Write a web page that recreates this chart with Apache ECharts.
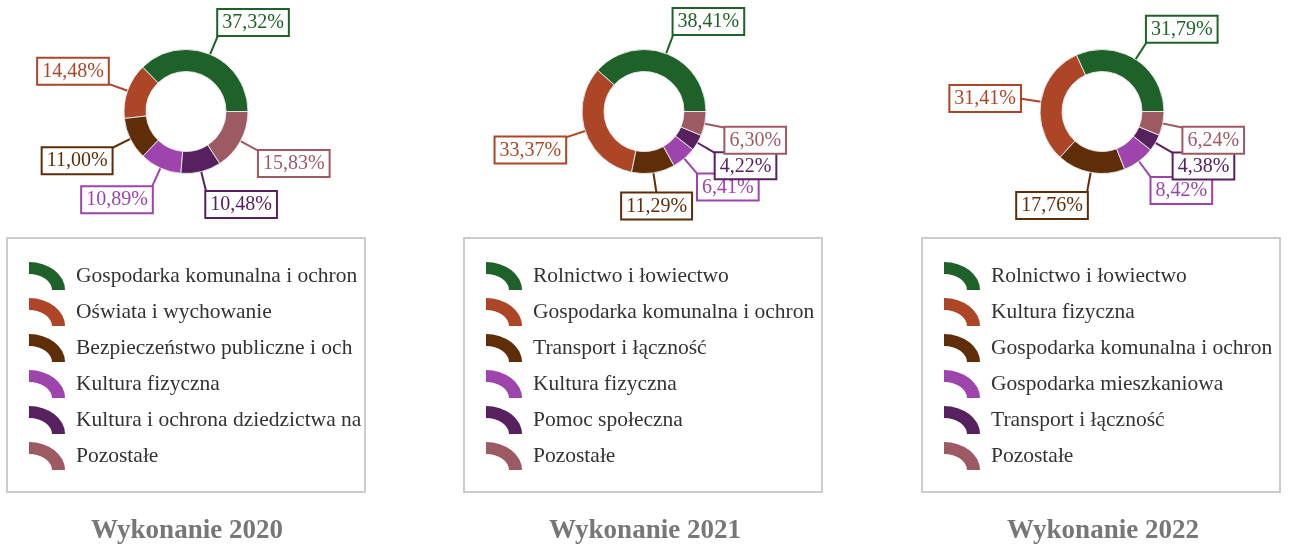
<!DOCTYPE html>
<html>
<head>
<meta charset="utf-8">
<title>Wykonanie 2020–2022</title>
<script src="https://cdn.jsdelivr.net/npm/echarts@6/dist/echarts.min.js"></script>
<style>
  html, body { margin: 0; padding: 0; background: #fff; }
  #chart { width: 1290px; height: 545px; }
</style>
</head>
<body>
<div id="chart"></div>
<script>
// Expenditure structure by section, share of total (%)
const years = ['Wykonanie 2020', 'Wykonanie 2021', 'Wykonanie 2022'];

const names2020 = [
  'Gospodarka komunalna i ochrona środowiska',
  'Oświata i wychowanie',
  'Bezpieczeństwo publiczne i ochrona przeciwpożarowa',
  'Kultura fizyczna',
  'Kultura i ochrona dziedzictwa narodowego',
  'Pozostałe'
];
const values2020 = [37.32, 14.48, 11.00, 10.89, 10.48, 15.83];

const names2021 = [
  'Rolnictwo i łowiectwo',
  'Gospodarka komunalna i ochrona środowiska',
  'Transport i łączność',
  'Kultura fizyczna',
  'Pomoc społeczna',
  'Pozostałe'
];
const values2021 = [38.41, 33.37, 11.29, 6.41, 4.22, 6.30];

const names2022 = [
  'Rolnictwo i łowiectwo',
  'Kultura fizyczna',
  'Gospodarka komunalna i ochrona środowiska',
  'Gospodarka mieszkaniowa',
  'Transport i łączność',
  'Pozostałe'
];
const values2022 = [31.79, 31.41, 17.76, 8.42, 4.38, 6.24];

// slice colours, by position in each ring
const palette = ['#1f6229', '#ad4527', '#5f2e09', '#9d45ad', '#572160', '#9e5a63'];

const FONT = "'Liberation Serif', 'Times New Roman', Times, serif";
const centersX = [186, 644, 1102];
const centerY = 111.5;
const boxLeft = [7, 464, 922];

// quarter-ring legend icon
const ringIcon = 'path://M0,0 A36,28 0 0 1 36,28 L23,28 A23,16 0 0 0 0,12 Z';

const groups = [
  { names: names2020, values: values2020 },
  { names: names2021, values: values2021 },
  { names: names2022, values: values2022 }
];

const fmt = v => v.toFixed(2).replace('.', ',') + '%';

// mid angle of every slice (rings start at 3 o'clock and run counter-clockwise)
const midAngles = groups.map(g => {
  const total = g.values.reduce((a, b) => a + b, 0);
  let acc = 0;
  return g.values.map(v => {
    const m = (acc + v / 2) / total * Math.PI * 2;
    acc += v;
    return m;
  });
});

// label box hangs off the end of its leader line, on the side facing away from the ring
function placeLabel(params) {
  const a = midAngles[params.seriesIndex][params.dataIndex];
  const c = Math.cos(a), s = Math.sin(a);
  return {
    align: Math.abs(c) < 0.17 ? 'center' : (c > 0 ? 'left' : 'right'),
    verticalAlign: Math.abs(s) < 0.17 ? 'middle' : (s > 0 ? 'bottom' : 'top')
  };
}

const series = groups.map((g, i) => ({
  type: 'pie',
  name: years[i],
  center: [centersX[i], centerY],
  radius: [40, 62],
  startAngle: 0,
  clockwise: false,
  avoidLabelOverlap: false,
  animation: false,
  itemStyle: { borderColor: 'rgba(235,235,235,0.9)', borderWidth: 1 },
  label: {
    show: true,
    position: 'outside',
    alignTo: 'none',
    distanceToLabelLine: 0,
    formatter: p => fmt(p.value),
    fontFamily: FONT,
    fontSize: 20,
    lineHeight: 20,
    backgroundColor: '#fff',
    borderWidth: 2,
    padding: [3, 4, 2, 4]
  },
  labelLine: { show: true, length: 21, length2: 0, smooth: false, lineStyle: { width: 2 } },
  labelLayout: placeLabel,
  emphasis: { disabled: true },
  data: g.names.map((n, k) => ({
    name: n,
    value: g.values[k],
    itemStyle: { color: palette[k] },
    label: { color: palette[k], borderColor: palette[k] }
  }))
}));

const legends = groups.map((g, i) => ({
  orient: 'vertical',
  left: boxLeft[i] + 22,
  top: 262,
  padding: 0,
  itemGap: 8,
  itemWidth: 36,
  itemHeight: 28,
  selectedMode: false,
  icon: ringIcon,
  itemStyle: { borderWidth: 0 },
  textStyle: {
    fontFamily: FONT,
    fontSize: 21.5,
    lineHeight: 24,
    color: '#333',
    width: 287,
    overflow: 'truncate',
    ellipsis: '',
    padding: [0, 0, 4, 6]
  },
  data: g.names.map((n, k) => ({ name: n, itemStyle: { color: palette[k] } }))
}));

// frames round each legend
const frames = boxLeft.map(x => ({
  type: 'rect',
  shape: { x: x, y: 238, width: 358, height: 254 },
  style: { fill: 'none', stroke: '#cccccc', lineWidth: 2 },
  silent: true,
  z: -1
}));

const titles = years.map((t, i) => ({
  text: t,
  left: centersX[i] - 4,
  top: 513,
  textAlign: 'center',
  textStyle: { fontFamily: FONT, fontSize: 27, fontWeight: 'bold', color: '#777' }
}));

const chart = echarts.init(document.getElementById('chart'), null, { renderer: 'canvas' });
chart.setOption({
  backgroundColor: '#fff',
  animation: false,
  title: titles,
  legend: legends,
  graphic: frames,
  tooltip: { show: false },
  series: series
});
</script>
</body>
</html>
